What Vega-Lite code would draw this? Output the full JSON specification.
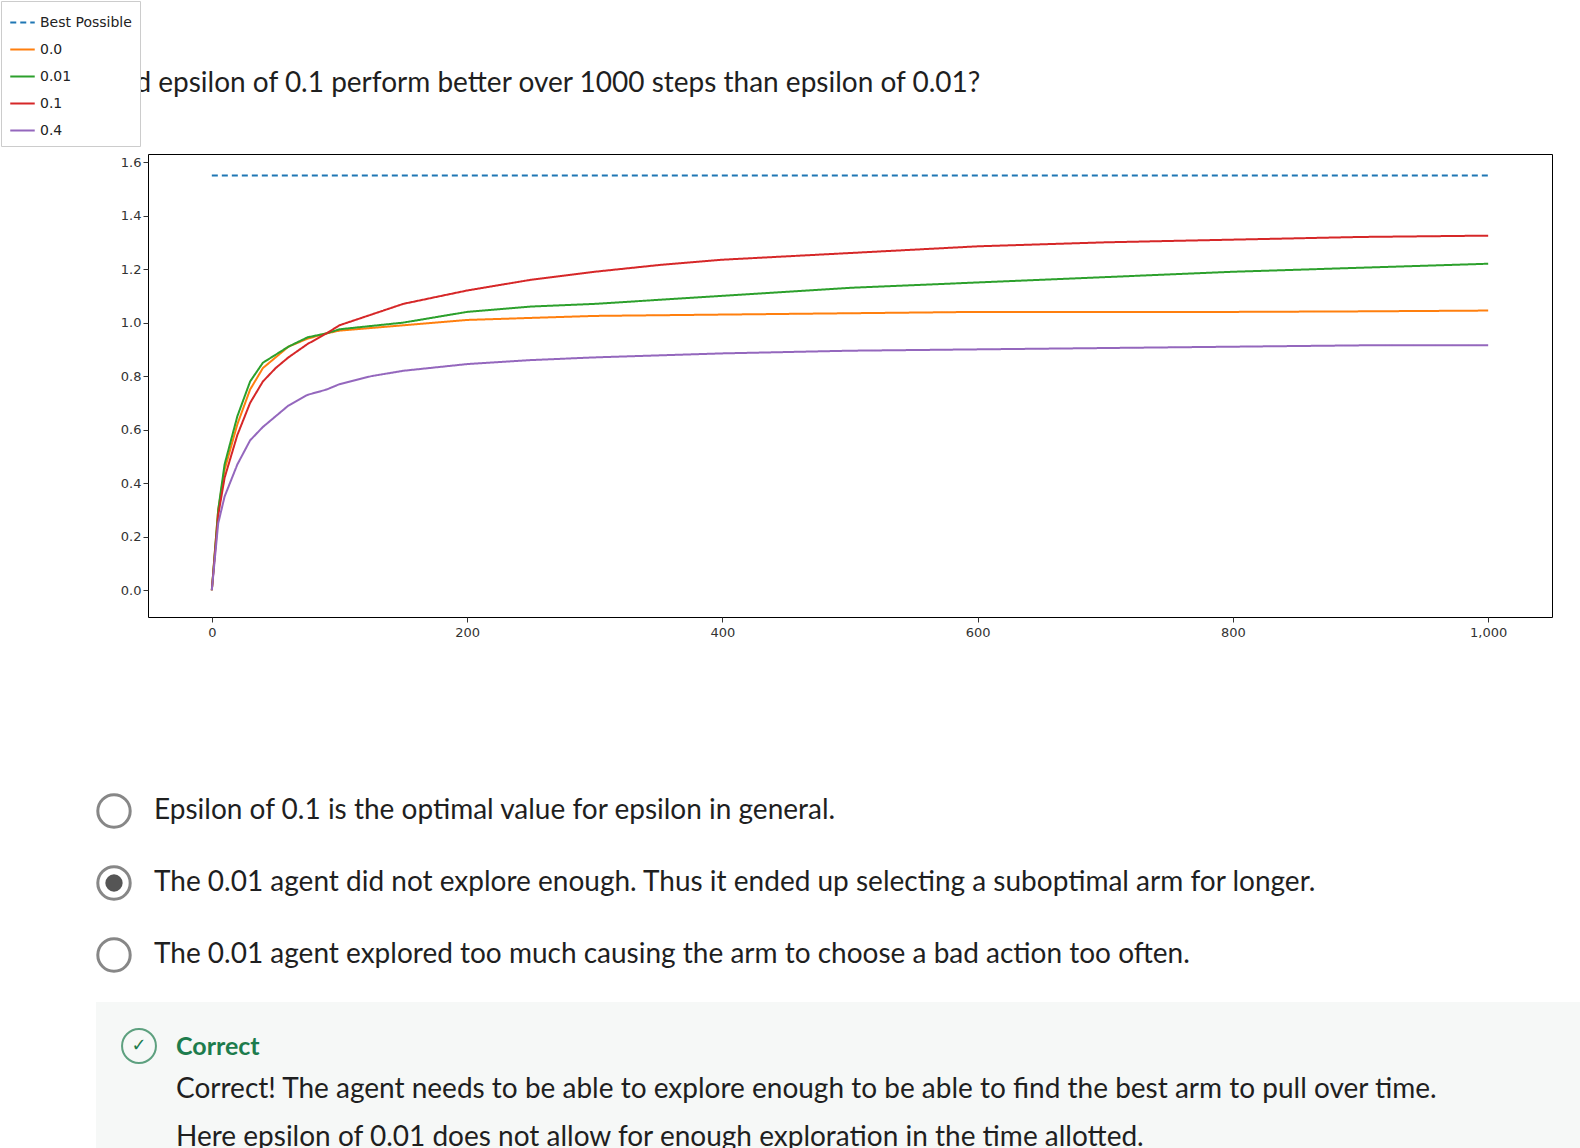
{
"$schema":"https://vega.github.io/schema/vega-lite/v6.json",
"padding":0,
"background":"white",
"spacing":77,
"bounds":"flush",
"config":{"view":{"stroke":null},"font":"DejaVu Sans"},
"datasets":{
"series":[
{"s":"Best Possible","x":0,"y":1.55},{"s":"Best Possible","x":1000,"y":1.55},
{"s":"0.0","x":0,"y":0.0},{"s":"0.0","x":5,"y":0.3},{"s":"0.0","x":10,"y":0.45},{"s":"0.0","x":20,"y":0.62},{"s":"0.0","x":30,"y":0.75},{"s":"0.0","x":40,"y":0.83},{"s":"0.0","x":50,"y":0.87},{"s":"0.0","x":60,"y":0.91},{"s":"0.0","x":75,"y":0.94},{"s":"0.0","x":90,"y":0.96},{"s":"0.0","x":100,"y":0.97},{"s":"0.0","x":150,"y":0.99},{"s":"0.0","x":200,"y":1.01},{"s":"0.0","x":300,"y":1.025},{"s":"0.0","x":400,"y":1.03},{"s":"0.0","x":500,"y":1.035},{"s":"0.0","x":600,"y":1.04},{"s":"0.0","x":700,"y":1.04},{"s":"0.0","x":800,"y":1.04},{"s":"0.0","x":900,"y":1.042},{"s":"0.0","x":1000,"y":1.045},
{"s":"0.01","x":0,"y":0.0},{"s":"0.01","x":5,"y":0.3},{"s":"0.01","x":10,"y":0.47},{"s":"0.01","x":20,"y":0.65},{"s":"0.01","x":30,"y":0.78},{"s":"0.01","x":40,"y":0.85},{"s":"0.01","x":50,"y":0.88},{"s":"0.01","x":60,"y":0.91},{"s":"0.01","x":75,"y":0.945},{"s":"0.01","x":90,"y":0.96},{"s":"0.01","x":100,"y":0.975},{"s":"0.01","x":150,"y":1.0},{"s":"0.01","x":200,"y":1.04},{"s":"0.01","x":250,"y":1.06},{"s":"0.01","x":300,"y":1.07},{"s":"0.01","x":400,"y":1.1},{"s":"0.01","x":500,"y":1.13},{"s":"0.01","x":600,"y":1.15},{"s":"0.01","x":700,"y":1.17},{"s":"0.01","x":800,"y":1.19},{"s":"0.01","x":900,"y":1.205},{"s":"0.01","x":1000,"y":1.22},
{"s":"0.1","x":0,"y":0.0},{"s":"0.1","x":5,"y":0.28},{"s":"0.1","x":10,"y":0.42},{"s":"0.1","x":20,"y":0.58},{"s":"0.1","x":30,"y":0.7},{"s":"0.1","x":40,"y":0.78},{"s":"0.1","x":50,"y":0.83},{"s":"0.1","x":60,"y":0.87},{"s":"0.1","x":75,"y":0.92},{"s":"0.1","x":90,"y":0.96},{"s":"0.1","x":100,"y":0.99},{"s":"0.1","x":125,"y":1.03},{"s":"0.1","x":150,"y":1.07},{"s":"0.1","x":200,"y":1.12},{"s":"0.1","x":250,"y":1.16},{"s":"0.1","x":300,"y":1.19},{"s":"0.1","x":350,"y":1.215},{"s":"0.1","x":400,"y":1.235},{"s":"0.1","x":500,"y":1.26},{"s":"0.1","x":600,"y":1.285},{"s":"0.1","x":700,"y":1.3},{"s":"0.1","x":800,"y":1.31},{"s":"0.1","x":900,"y":1.32},{"s":"0.1","x":1000,"y":1.325},
{"s":"0.4","x":0,"y":0.0},{"s":"0.4","x":5,"y":0.25},{"s":"0.4","x":10,"y":0.35},{"s":"0.4","x":20,"y":0.47},{"s":"0.4","x":30,"y":0.56},{"s":"0.4","x":40,"y":0.61},{"s":"0.4","x":50,"y":0.65},{"s":"0.4","x":60,"y":0.69},{"s":"0.4","x":75,"y":0.73},{"s":"0.4","x":90,"y":0.75},{"s":"0.4","x":100,"y":0.77},{"s":"0.4","x":125,"y":0.8},{"s":"0.4","x":150,"y":0.82},{"s":"0.4","x":200,"y":0.845},{"s":"0.4","x":250,"y":0.86},{"s":"0.4","x":300,"y":0.87},{"s":"0.4","x":400,"y":0.885},{"s":"0.4","x":500,"y":0.895},{"s":"0.4","x":600,"y":0.9},{"s":"0.4","x":700,"y":0.905},{"s":"0.4","x":800,"y":0.91},{"s":"0.4","x":900,"y":0.915},{"s":"0.4","x":1000,"y":0.915}
],
"corners":[{"x":0,"y":0},{"x":1580,"y":1148}],
"options":[
{"x":118,"y":757,"t":"Epsilon of 0.1 is the optimal value for epsilon in general."},
{"x":118,"y":829,"t":"The 0.01 agent did not explore enough. Thus it ended up selecting a suboptimal arm for longer."},
{"x":118,"y":901,"t":"The 0.01 agent explored too much causing the arm to choose a bad action too often."}
],
"radios":[{"x":78,"y":757},{"x":78,"y":829},{"x":78,"y":901}],
"selected":[{"x":78,"y":829}],
"box":[{"x":60,"x2":1580,"y":948,"y2":1130}],
"check":[{"x":103,"y":992}],
"correct":[{"x":140,"y":993,"t":"Correct"}],
"feedback":[
{"x":140,"y":1036,"t":"Correct! The agent needs to be able to explore enough to be able to find the best arm to pull over time."},
{"x":140,"y":1084,"t":"Here epsilon of 0.01 does not allow for enough exploration in the time allotted."}
]
},
"vconcat":[
{
"width":1404,"height":463,
"title":{"text":"7.  Why did epsilon of 0.1 perform better over 1000 steps than epsilon of 0.01?","anchor":"start","dx":-102,"offset":56,"font":"Lato","fontSize":28,"fontWeight":"normal","color":"#1f1f1f"},
"view":{"stroke":"black","strokeWidth":1},
"data":{"name":"series"},
"mark":{"type":"line","strokeWidth":2,"clip":true},
"encoding":{
"x":{"field":"x","type":"quantitative","scale":{"domain":[-50,1050],"nice":false,"zero":false},"axis":{"values":[0,200,400,600,800,1000],"grid":false,"title":null,"labelFont":"DejaVu Sans","labelFontSize":13,"labelColor":"#333","tickColor":"#333","domain":false,"labelPadding":4}},
"y":{"field":"y","type":"quantitative","scale":{"domain":[-0.1,1.63],"nice":false,"zero":false},"axis":{"values":[0,0.2,0.4,0.6,0.8,1.0,1.2,1.4,1.6],"format":".1f","grid":false,"title":null,"labelFont":"DejaVu Sans","labelFontSize":13,"labelColor":"#333","tickColor":"#333","domain":false}},
"color":{"field":"s","type":"nominal","sort":["Best Possible","0.0","0.01","0.1","0.4"],"scale":{"domain":["Best Possible","0.0","0.01","0.1","0.4"],"range":["#1f77b4","#ff7f0e","#2ca02c","#d62728","#9467bd"]},"legend":{"title":null,"orient":"bottom-right","offset":8,"fillColor":"white","strokeColor":"#ccc","padding":8,"labelFont":"DejaVu Sans","labelFontSize":14,"labelColor":"#222","symbolType":"stroke","symbolSize":600,"symbolStrokeWidth":2,"rowPadding":6}},
"strokeDash":{"field":"s","type":"nominal","sort":["Best Possible","0.0","0.01","0.1","0.4"],"scale":{"domain":["Best Possible","0.0","0.01","0.1","0.4"],"range":[[6,4],[1,0],[1,0],[1,0],[1,0]]},"legend":null}
}
},
{
"width":1468,"height":508,
"view":{"stroke":null},
"encoding":{
"x":{"field":"x","type":"quantitative","scale":{"domain":[112,1580],"nice":false,"zero":false},"axis":null},
"y":{"field":"y","type":"quantitative","scale":{"domain":[640,1148],"reverse":true,"nice":false,"zero":false},"axis":null}
},
"layer":[
{"data":{"name":"corners"},"mark":{"type":"point","size":1,"opacity":0,"clip":false}},
{"data":{"name":"box"},"mark":{"type":"rect","fill":"#f6f8f7","clip":false},"encoding":{"x":{"field":"x","type":"quantitative"},"x2":{"field":"x2"},"y":{"field":"y","type":"quantitative"},"y2":{"field":"y2"}}},
{"data":{"name":"radios"},"mark":{"type":"point","shape":"circle","size":1050,"filled":false,"stroke":"#555","strokeWidth":3,"clip":false}},
{"data":{"name":"selected"},"mark":{"type":"point","shape":"circle","size":300,"filled":true,"fill":"#555","opacity":1,"clip":false}},
{"data":{"name":"check"},"mark":{"type":"point","shape":"circle","size":1150,"filled":false,"stroke":"#1d7c4d","strokeWidth":2,"clip":false}},
{"data":{"name":"check"},"mark":{"type":"text","text":"✓","font":"DejaVu Sans","fontSize":18,"color":"#1d7c4d","align":"center","baseline":"middle","clip":false}},
{"data":{"name":"options"},"mark":{"type":"text","font":"Lato","fontSize":28,"color":"#1f1f1f","align":"left","baseline":"middle","clip":false},"encoding":{"text":{"field":"t"}}},
{"data":{"name":"correct"},"mark":{"type":"text","font":"Lato","fontSize":25,"fontWeight":"bold","color":"#1d7c4d","align":"left","baseline":"middle","clip":false},"encoding":{"text":{"field":"t"}}},
{"data":{"name":"feedback"},"mark":{"type":"text","font":"Lato","fontSize":28,"color":"#1f1f1f","align":"left","baseline":"middle","clip":false},"encoding":{"text":{"field":"t"}}}
]
}
]
}
